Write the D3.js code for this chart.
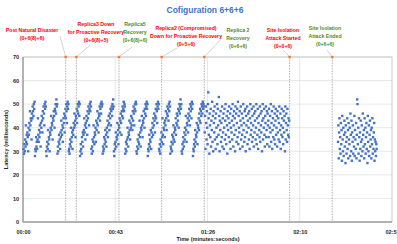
<!DOCTYPE html>
<html>
<head>
<meta charset="utf-8">
<script src="https://cdn.jsdelivr.net/npm/d3@7"></script>
<style>
  body { margin: 0; background: #fff; }
  svg text { font-family: "Liberation Sans", Arial, sans-serif; font-weight: bold; }
</style>
</head>
<body>
<div id="chart"></div>
<script>
// Latency samples (ms), evenly sampled inside each segment
const segStart = [0.3, 85.2, 147.7];
const segEnd = [84.8, 124.8, 165.8];

// 0 - 85 s: sawtooth pattern
const latencyA = [
  31,29,33,30,35,32,41,34,37,33,38,36,30,40,37,42,39,47,41,44,43,35,46,44,49,47,45,50,48,51,
  28,31,30,36,32,34,31,35,44,37,34,39,36,41,38,32,42,40,45,43,38,47,44,49,46,41,50,48,51,49,
  30,28,32,34,31,39,33,36,35,30,38,37,40,45,39,42,41,35,44,43,47,45,40,48,47,50,46,52,49,50,
  29,32,30,34,37,33,35,31,38,36,43,39,37,41,34,40,44,42,46,38,45,48,44,50,47,42,49,51,48,50,
  30,31,29,33,35,32,40,34,36,38,31,39,37,42,40,46,41,43,36,45,44,48,42,47,50,46,49,51,45,50,
  28,30,33,31,29,36,34,38,32,37,39,44,38,41,35,42,40,45,43,37,47,44,49,46,41,48,50,47,51,49,
  31,29,32,35,30,34,41,36,33,38,37,40,34,43,39,42,47,41,44,38,46,45,49,43,48,50,46,51,49,50,
  29,32,30,31,36,33,35,39,34,37,32,40,38,43,36,41,45,42,39,46,44,48,41,47,49,45,50,48,52,49,
  30,28,33,31,34,38,32,36,35,42,37,39,33,41,40,44,38,43,46,42,37,47,45,49,44,48,51,47,50,49,
  29,31,34,30,33,35,40,36,32,38,37,43,39,35,42,40,45,41,44,39,47,43,49,46,41,48,50,47,51,50,
  30,29,32,35,31,34,37,33,43,36,38,32,40,39,45,41,36,43,42,47,44,40,48,46,50,45,49,51,48,50,
  28,31,30,33,37,32,35,34,39,31,38,36,42,40,37,44,41,46,43,38,45,48,44,50,47,42,49,51,48,50,
  31,30,33,29,35,32,38,34,36,44,37,33,40,39,42,36,43,41,47,44,39,46,49,45,48,43,50,47,51,49,
  29,32,31,34,30,37,33,36,41,35,38,34,40,39,44,37,42,46,41,45,43,48,40,47,50,46,49,52,48,50,
  30,29,33,31,36,34,32,38,35,40,37,45,39,34,42,41,44,38,46,43,48,45,41,50,47,49,44,51,48,50,
  28,31,30,33,35,32,39,34,37,36,42,38,33,41,40,44,39,46,43,48,42,47,45,50,49,46,51,48,50,49
];

// 85 - 125 s: scattered
const latencyB = [
  38,45,31,49,42,35,47,40,33,50,55,44,37,29,46,41,36,48,32,43,39,51,34,45,30,47,42,38,49,35,
  44,31,46,40,36,50,33,48,41,37,53,45,30,43,39,47,34,42,36,49,32,44,38,46,31,40,48,35,43,50,
  37,33,45,41,29,47,39,44,36,49,42,34,46,31,40,48,38,43,35,50,45,32,41,47,37,44,30,49,39,46,
  34,42,48,36,51,33,45,40,38,47,31,43,49,35,41,46,37,32,44,50,39,42,34,47,36,48,30,45,41,38,
  49,33,43,46,40,35,47,31,44,50,37,42,39,48,34,45,36,41,49,32,46,38,43,47,35,40,50,33,44,37,
  48,31,42,45,39,36,49,34,46,41,38,47,30,43,50,35,44,40,48,37,32,45,42,49,36,39,47,33,46,41,
  43,36,48,32,40,45,38,50,34,42,47,31,39,44,36,49,41,35,46,33,43,48,37,40,45,32,47,38,44,35,
  42,49,34,39,46,31,41,37,48,44,36,40,33,47,43,38,45,30,49,35,42,46,39,34,48,41,37,44,36,43
];

// 147.7 - 165.8 s: after site isolation attack ended
const latencyC = [
  34,41,27,38,44,31,36,29,42,33,39,26,45,35,30,40,28,37,43,32,38,25,41,34,29,36,44,31,39,27,
  42,35,33,40,28,46,37,30,43,26,38,34,41,29,36,32,45,28,39,35,31,42,27,37,52,50,33,40,29,44,
  36,26,38,31,43,34,28,41,35,30,46,37,32,39,27,44,33,40,29,36,42,31,38,25,45,34,30,41,28,37,
  43,32,35,39,27,40,33,44,29,36,31,38,42,26,35,30,34,28,33,31
];

const xTicks = [0, 43.25, 86.5, 129.75, 173];
const xTickLabels = ["00:00", "00:43", "01:26", "02:10", "02:53"];
const yTicks = [0, 10, 20, 30, 40, 50, 60, 70];

// events (seconds) and their labels
const eventTimes = [20, 25, 45, 65, 85, 125, 145];
const eventLabels = [
  ["Post Natural Disaster", "(0+6(8)+6)"],
  ["Replica3  Down", "for Proactive Recovery", "(0+6(8)+5)"],
  ["Replica5", "Recovery", "(0+6(8)+6)"],
  ["Replica2 (Compromised)", "Down for Proactive Recovery", "(0+5+6)"],
  ["Replica 2", "Recovery", "(0+6+6)"],
  ["Site Isolation", "Attack Started", "(0+0+6)"],
  ["Site Isolation", "Attack Ended", "(0+6+6)"]
];
const eventKinds = ["down", "down", "up", "down", "up", "down", "up"];

const W = 397, H = 244;
const svg = d3.select("#chart").append("svg").attr("width", W).attr("height", H);

const x = d3.scaleLinear().domain([0, 173]).range([23, 392]);
const y = d3.scaleLinear().domain([0, 70]).range([222, 57]);

// grid
svg.append("g").selectAll("line").data(yTicks.slice(1)).enter().append("line")
  .attr("x1", x(0)).attr("x2", x(173))
  .attr("y1", d => y(d)).attr("y2", d => y(d))
  .attr("stroke", "#d9d9d9").attr("stroke-width", 0.6);
svg.append("g").selectAll("line").data(xTicks.slice(1, -1)).enter().append("line")
  .attr("x1", d => x(d)).attr("x2", d => x(d))
  .attr("y1", y(0)).attr("y2", y(70))
  .attr("stroke", "#d9d9d9").attr("stroke-width", 0.6);

// frame
svg.append("rect").attr("x", x(0)).attr("y", y(70))
  .attr("width", x(173) - x(0)).attr("height", y(0) - y(70))
  .attr("fill", "none").attr("stroke", "#bfbfbf").attr("stroke-width", 0.8);
svg.append("line").attr("x1", x(0)).attr("x2", x(0)).attr("y1", y(70)).attr("y2", y(0))
  .attr("stroke", "#808080").attr("stroke-width", 1);
svg.append("line").attr("x1", x(0)).attr("x2", x(173)).attr("y1", y(0)).attr("y2", y(0))
  .attr("stroke", "#808080").attr("stroke-width", 1);

// axes labels
const yAxis = d3.axisLeft(y).tickValues(yTicks).tickSize(0).tickPadding(4);
const gy = svg.append("g").attr("transform", `translate(${x(0)},0)`).call(yAxis);
gy.select(".domain").remove();
gy.selectAll("text").attr("font-size", 5.5).attr("fill", "#262626")
  .style("font-family", "Liberation Sans, Arial, sans-serif").style("font-weight", "bold");

const xAxis = d3.axisBottom(x).tickValues(xTicks).tickFormat((d, i) => xTickLabels[i])
  .tickSize(0).tickPadding(8);
const gx = svg.append("g").attr("transform", `translate(0,${y(0)})`).call(xAxis);
gx.select(".domain").remove();
gx.selectAll("text").attr("font-size", 5.5).attr("fill", "#262626")
  .style("font-family", "Liberation Sans, Arial, sans-serif").style("font-weight", "bold");

// points
const pts = [];
[latencyA, latencyB, latencyC].forEach((arr, s) => {
  const t = d3.scaleLinear().domain([0, arr.length - 1]).range([segStart[s], segEnd[s]]);
  arr.forEach((v, i) => pts.push({ t: t(i), v: v }));
});
svg.append("g").selectAll("rect").data(pts).enter().append("rect")
  .attr("x", d => x(d.t) - 1.2).attr("y", d => y(d.v) - 1.2)
  .attr("width", 2.4).attr("height", 2.4)
  .attr("fill", "#4472c4");

// event markers
const colors = { down: "#ff0000", up: "#4f8a2d" };
// label layout: [center x, first baseline, leader end x, leader end y]
const labelLayout = [
  [32, 32, 60, 36],
  [96, 26, 90, 45],
  [135, 26, 132, 47],
  [186, 30, 177, 48],
  [238, 32, 222, 38],
  [283, 32, 283, 50],
  [325, 30, 327, 50]
];
const ev = svg.append("g");
eventTimes.forEach((tm, i) => {
  const ex = x(tm);
  ev.append("line").attr("x1", ex).attr("x2", ex).attr("y1", y(70)).attr("y2", y(0))
    .attr("stroke", "#8c8c8c").attr("stroke-width", 0.7).attr("stroke-dasharray", "1.5,1.2");
  const L = labelLayout[i];
  ev.append("line").attr("x1", ex).attr("y1", y(70)).attr("x2", L[2]).attr("y2", L[3])
    .attr("stroke", "#a6a6a6").attr("stroke-width", 0.5);
  ev.append("rect").attr("x", ex - 1.2).attr("y", y(70) - 1.2).attr("width", 2.4).attr("height", 2.4)
    .attr("fill", "#ed7d31");
  const txt = ev.append("text").attr("text-anchor", "middle")
    .attr("font-size", 5.2).attr("fill", colors[eventKinds[i]]);
  eventLabels[i].forEach((line, j) => {
    txt.append("tspan").attr("x", L[0]).attr("y", L[1] + j * 8).text(line);
  });
});

// titles
svg.append("text").attr("x", 205).attr("y", 13).attr("text-anchor", "middle")
  .attr("font-size", 8.5).attr("fill", "#4472c4").text("Cofiguration 6+6+6");
svg.append("text").attr("x", 208).attr("y", 241).attr("text-anchor", "middle")
  .attr("font-size", 5.5).attr("fill", "#262626").text("Time (minutes:seconds)");
svg.append("text").attr("transform", `translate(8,${(y(0) + y(70)) / 2}) rotate(-90)`)
  .attr("text-anchor", "middle").attr("font-size", 5.5).attr("fill", "#262626")
  .text("Latency (milliseconds)");
</script>
</body>
</html>
